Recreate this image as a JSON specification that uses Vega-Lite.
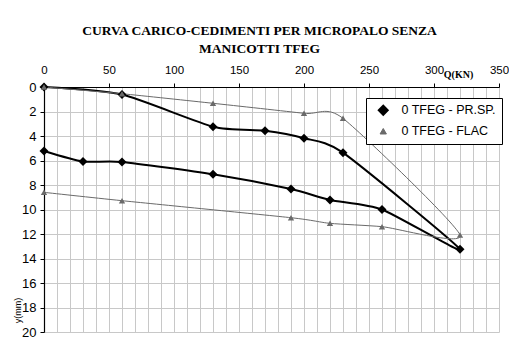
{
  "$schema": "https://vega.github.io/schema/vega-lite/v6.json",
  "width": 455,
  "height": 245,
  "autosize": {"type": "none"},
  "padding": {"left": 44, "top": 87, "right": 10, "bottom": 15},
  "background": "white",
  "title": {
    "text": ["CURVA CARICO-CEDIMENTI PER MICROPALO SENZA", "MANICOTTI TFEG"],
    "font": "Liberation Serif",
    "fontSize": 13.5,
    "fontWeight": "bold",
    "color": "black",
    "lineHeight": 18,
    "anchor": "middle",
    "dx": -12,
    "offset": 9
  },
  "data": {
    "values": [
      {"series": "0 TFEG - PR.SP.", "seq": 1, "q": 0, "y": 0},
      {"series": "0 TFEG - PR.SP.", "seq": 2, "q": 60, "y": 0.62},
      {"series": "0 TFEG - PR.SP.", "seq": 3, "q": 130, "y": 3.24},
      {"series": "0 TFEG - PR.SP.", "seq": 4, "q": 170, "y": 3.57},
      {"series": "0 TFEG - PR.SP.", "seq": 5, "q": 200, "y": 4.18},
      {"series": "0 TFEG - PR.SP.", "seq": 6, "q": 230, "y": 5.36},
      {"series": "0 TFEG - PR.SP.", "seq": 7, "q": 320, "y": 13.25},
      {"series": "0 TFEG - PR.SP.", "seq": 8, "q": 260, "y": 10.0},
      {"series": "0 TFEG - PR.SP.", "seq": 9, "q": 220, "y": 9.22},
      {"series": "0 TFEG - PR.SP.", "seq": 10, "q": 190, "y": 8.33},
      {"series": "0 TFEG - PR.SP.", "seq": 11, "q": 130, "y": 7.13},
      {"series": "0 TFEG - PR.SP.", "seq": 12, "q": 60, "y": 6.12},
      {"series": "0 TFEG - PR.SP.", "seq": 13, "q": 30, "y": 6.08},
      {"series": "0 TFEG - PR.SP.", "seq": 14, "q": 0, "y": 5.22},
      {"series": "0 TFEG - FLAC", "seq": 1, "q": 0, "y": 0},
      {"series": "0 TFEG - FLAC", "seq": 2, "q": 60, "y": 0.55},
      {"series": "0 TFEG - FLAC", "seq": 3, "q": 130, "y": 1.33},
      {"series": "0 TFEG - FLAC", "seq": 4, "q": 200, "y": 2.15},
      {"series": "0 TFEG - FLAC", "seq": 5, "q": 230, "y": 2.56},
      {"series": "0 TFEG - FLAC", "seq": 6, "q": 320, "y": 12.08},
      {"series": "0 TFEG - FLAC", "seq": 7, "q": 260, "y": 11.4},
      {"series": "0 TFEG - FLAC", "seq": 8, "q": 220, "y": 11.13},
      {"series": "0 TFEG - FLAC", "seq": 9, "q": 190, "y": 10.67},
      {"series": "0 TFEG - FLAC", "seq": 10, "q": 60, "y": 9.28},
      {"series": "0 TFEG - FLAC", "seq": 11, "q": 0, "y": 8.6}
    ]
  },
  "encoding": {
    "x": {
      "field": "q",
      "type": "quantitative",
      "scale": {"domain": [0, 350], "nice": false, "zero": false},
      "axis": {
        "orient": "top",
        "values": [0,10,20,30,40,50,60,70,80,90,100,110,120,130,140,150,160,170,180,190,200,210,220,230,240,250,260,270,280,290,300,310,320,330,340,350],
        "labelExpr": "datum.value % 50 === 0 ? datum.label : ''",
        "labelFontSize": 11.5,
        "labelPadding": 8,
        "labelFlush": false,
        "labelOverlap": false,
        "tickColor": {"condition": {"test": "datum.value % 50 === 0", "value": "black"}, "value": "transparent"},
        "title": "Q(KN)",
        "titleFont": "Liberation Serif",
        "titleFontSize": 10,
        "titleFontWeight": "bold",
        "titleX": 414,
        "titleY": -13,
        "titleAlign": "center",
        "titleBaseline": "middle",
        "titleAnchor": "start"
      }
    },
    "y": {
      "field": "y",
      "type": "quantitative",
      "scale": {"domain": [0, 20], "reverse": true, "nice": false},
      "axis": {
        "values": [0,2,4,6,8,10,12,14,16,18,20],
        "labelFontSize": 13,
        "labelPadding": 4,
        "tickColor": "black",
        "title": "y(mm)",
        "titleFont": "Liberation Sans",
        "titleFontSize": 9,
        "titleFontWeight": "normal",
        "titleX": -27,
        "titleY": 223,
        "titleAngle": -90,
        "titleAlign": "center",
        "titleBaseline": "middle"
      }
    },
    "color": {
      "field": "series",
      "type": "nominal",
      "scale": {"domain": ["0 TFEG - PR.SP.", "0 TFEG - FLAC"], "range": ["#000000", "#6a6a6a"]},
      "legend": {
        "title": null,
        "orient": "none",
        "legendX": 322,
        "legendY": 11,
        "fillColor": "white",
        "strokeColor": "black",
        "padding": 6,
        "cornerRadius": 0,
        "rowPadding": 6,
        "symbolOffset": 5,
        "labelOffset": 12,
        "labelFont": "Liberation Sans",
        "labelFontSize": 12.5,
        "labelColor": "black",
        "symbolSize": 81,
        "encode": {
          "symbols": {
            "update": {
              "shape": {"condition": {"test": "datum.value === '0 TFEG - PR.SP.'", "value": "M-3.3,0L3.3,0M0,-1L1,0L0,1L-1,0Z"}, "value": "M-3.3,0L3.3,0M0,-0.8L0.8,0.6L-0.8,0.6Z"},
              "fill": {"condition": {"test": "datum.value === '0 TFEG - PR.SP.'", "value": "#000000"}, "value": "#6a6a6a"},
              "stroke": {"condition": {"test": "datum.value === '0 TFEG - PR.SP.'", "value": "#000000"}, "value": "#6a6a6a"},
              "strokeWidth": {"condition": {"test": "datum.value === '0 TFEG - PR.SP.'", "value": 2}, "value": 1}
            }
          }
        }
      }
    }
  },
  "layer": [
    {
      "mark": {"type": "line", "interpolate": "cardinal", "tension": 0.35},
      "encoding": {
        "order": {"field": "seq", "type": "quantitative"},
        "strokeWidth": {
          "field": "series",
          "type": "nominal",
          "scale": {"domain": ["0 TFEG - PR.SP.", "0 TFEG - FLAC"], "range": [2, 1]},
          "legend": null
        }
      }
    },
    {
      "mark": {"type": "point", "filled": true, "opacity": 1},
      "encoding": {
        "shape": {
          "field": "series",
          "type": "nominal",
          "scale": {"domain": ["0 TFEG - PR.SP.", "0 TFEG - FLAC"], "range": ["diamond", "triangle-up"]},
          "legend": null
        },
        "size": {
          "field": "series",
          "type": "nominal",
          "scale": {"domain": ["0 TFEG - PR.SP.", "0 TFEG - FLAC"], "range": [80, 40]},
          "legend": null
        }
      }
    }
  ],
  "config": {
    "view": {"stroke": null},
    "axis": {
      "grid": true,
      "gridColor": "#c8c8c8",
      "gridWidth": 1,
      "gridOpacity": 1,
      "domainColor": "black",
      "domainWidth": 1.2,
      "tickSize": 4,
      "labelFont": "Liberation Sans",
      "labelColor": "black",
      "titleColor": "black"
    }
  }
}
